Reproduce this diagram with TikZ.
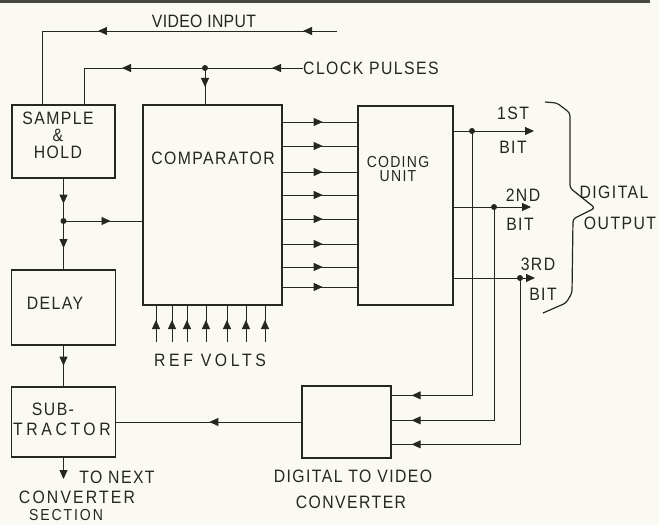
\documentclass[tikz,border=0pt]{standalone}
\usepackage{fontspec}
\setmainfont{Liberation Sans}[LetterSpace=8,FakeStretch=0.88]
\usepackage{tikz}
\usetikzlibrary{arrows.meta,positioning,decorations.markings}
\definecolor{papel}{RGB}{251,250,242}
\definecolor{tinta}{RGB}{38,38,34}
\tikzset{
  bloque/.style={rectangle,draw=tinta,line width=1.3bp,inner sep=0pt},
  rotulo/.style={font=\fontsize{18}{17}\selectfont,text=tinta,inner sep=0pt,align=center},
  senal/.style={draw=tinta,line width=0.9bp},
  flecha/.style={decoration={markings,
    mark=at position #1 with {\arrow{Triangle[length=9bp,width=8bp]}}},postaction={decorate}},
  flechas/.style 2 args={decoration={markings,
    mark=at position #1 with {\arrow{Triangle[length=9bp,width=8bp]}},
    mark=at position #2 with {\arrow{Triangle[length=9bp,width=8bp]}}},postaction={decorate}},
  nudo/.style={circle,fill=tinta,inner sep=0pt,minimum size=6bp}
}

\begin{document}
\begin{tikzpicture}[
  x={(1bp,0)},y={(0,-1bp)},
  bit/.style={senal,-{Triangle[length=9bp,width=8bp]}},
  llave/.style={draw=tinta,line width=1.2bp,rounded corners=3bp}
]
\fill[papel] (0,0) rectangle (659,525);
\useasboundingbox (0,0) rectangle (659,525);
\draw[draw=tinta!85,line width=3bp] (0,1.5) -- (650,1.5);

% 1. Bloques
\node[bloque,minimum width=103bp,minimum height=73bp] (sh) at (63.5,141.5) {};
\node[bloque,minimum width=139bp,minimum height=200bp] (comp) at (212.5,205) {};
\node[bloque,minimum width=95bp,minimum height=199bp] (cod) at (405.5,205.5) {};
\node[bloque,minimum width=104bp,minimum height=75bp] (retardo) at (63.5,307.5) {};
\node[bloque,minimum width=104bp,minimum height=70bp] (resta) at (63.5,422) {};
\node[bloque,minimum width=89bp,minimum height=72bp] (dav) at (346.5,422) {};

\node[rotulo] (shtxt) at (58,135) {SAMPLE\\\&\\HOLD};
\node[rotulo] (comptxt) at (213,158) {COMPARATOR};
\node[rotulo,font=\fontsize{16}{14.5}\selectfont] (codtxt) at (398,169) {CODING\\UNIT};
\node[rotulo] (rettxt) at (55,303) {DELAY};
\node[rotulo] (restatxt1) at (53,409) {SUB-};
\node[rotulo,font=\fontsize{18}{17}\selectfont\addfontfeature{LetterSpace=20}] (restatxt2) at (62,429) {TRACTOR};

% 2. Entradas de video y reloj
\node[rotulo,font=\fontsize{18}{17}\selectfont\addfontfeature{LetterSpace=2}] (vidtxt) at (204,21) {VIDEO INPUT};
\node[rotulo,anchor=west] (reloj) at (303,68) {CLOCK PULSES};
\coordinate (vin) at (337,31);
\coordinate (vcodo) at (42,31);
\coordinate (ccodo) at (84,68);
\coordinate (cnudo) at (205,68);
\draw[senal,flechas={34bp}{239bp}] (vin) -- (vcodo) -- (vcodo |- sh.north);
\draw[senal,flechas={31bp}{181bp}] (reloj.west) -- (ccodo) -- (ccodo |- sh.north);
\draw[senal,flecha={19bp}] (cnudo) -- (cnudo |- comp.north);
\node[nudo] at (cnudo) {};

% 3. Cadena muestreo -- retardo -- restador
\coordinate (snudo) at (63.5,221);
\coordinate (sig) at (63.5,479);
\draw[senal,flecha={25bp}] (sh.south) -- (snudo);
\draw[senal,flecha={27bp}] (snudo) -- (retardo.north);
\draw[senal,flecha={47bp}] (snudo) -- (snudo -| comp.west);
\node[nudo] at (snudo) {};
\draw[senal,flecha={20bp}] (retardo.south) -- (resta.north);
\draw[senal,-{Triangle[length=9bp,width=8bp]}] (resta.south) -- (sig);
\node[rotulo] (sigtxt) at (117,477) {TO NEXT};
\node[rotulo,font=\fontsize{18}{16}\selectfont\addfontfeature{LetterSpace=12}] (sigtxt2) at (77,497) {CONVERTER};
\node[rotulo,font=\fontsize{16}{16}\selectfont\addfontfeature{LetterSpace=12}] (sigtxt3) at (66,515) {SECTION};

% 4. Comparador y codificador
\foreach \y in {122,146,172,195,219,244,267,287}
  \draw[senal,flecha={40bp}] (comp.east |- 0,\y) -- (cod.west |- 0,\y);
\foreach \x [count=\i] in {156,172,187,206,227,246,265}{
  \coordinate (rv\i) at (\x,342);
  \draw[senal,flecha={22bp}] (rv\i) -- (rv\i |- comp.south);
}
\node[rotulo,font=\fontsize{18}{17}\selectfont\addfontfeature{LetterSpace=20}] (reftxt) at (210,360) {REF VOLTS};

% 5. Bits de salida y realimentacion
\coordinate (b1) at (472,131); \coordinate (b1f) at (534,131);
\coordinate (b2) at (494,207); \coordinate (b2f) at (531,207);
\coordinate (b3) at (520,278); \coordinate (b3f) at (535,278);
\draw[bit] (cod.east |- b1) -- (b1f);
\draw[bit] (cod.east |- b2) -- (b2f);
\draw[bit] (cod.east |- b3) -- (b3f);
\draw[senal,flecha={-20bp}] (b1) |- ([yshift=-10bp]dav.north east);
\draw[senal,flecha={-20bp}] (b2) |- ([yshift=-35bp]dav.north east);
\draw[senal,flecha={-20bp}] (b3) |- ([yshift=-59bp]dav.north east);
\node[nudo] at (b1) {};
\node[nudo] at (b2) {};
\node[nudo] at (b3) {};
\draw[senal,flecha={92bp}] (dav.west) -- (resta.east);

\node[rotulo] (t1) at (513,113) {1ST};
\node[rotulo] (t1b) at (513,147) {BIT};
\node[rotulo] (t2) at (523,195) {2ND};
\node[rotulo] (t2b) at (520,224) {BIT};
\node[rotulo] (t3) at (538,264) {3RD};
\node[rotulo] (t3b) at (543,294) {BIT};

\draw[llave] (545,102) -- (557,103) -- (570,113) -- (570,188) -- (595,208)
  -- (573,219) -- (572,293) -- (566,303) -- (543,313);
\node[rotulo] (salida1) at (614,192) {DIGITAL};
\node[rotulo] (salida2) at (620,223) {OUTPUT};

\node[rotulo] (davtxt1) at (353,476) {DIGITAL TO VIDEO};
\node[rotulo] (davtxt2) at (351,502) {CONVERTER};

\end{tikzpicture}
\end{document}
